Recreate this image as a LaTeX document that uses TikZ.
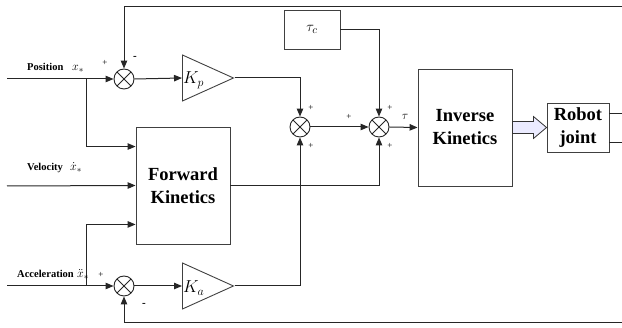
\documentclass[tikz,border=0pt]{standalone}
\usepackage{fontspec}
\setmainfont{Liberation Serif}
\usetikzlibrary{arrows.meta,shapes.geometric,calc}
\begin{document}
\begin{tikzpicture}[x=1pt,y=-1pt,
  line/.style={draw=black!85, line width=1pt},
  arr/.style={line, -{Triangle[length=8pt,width=6.5pt]}},
  box/.style={draw=black!75, line width=0.9pt, inner sep=0pt, align=center},
  bigtxt/.style={font=\fontsize{18.5}{23}\selectfont\bfseries},
  sumnode/.style={circle, draw=black!85, line width=0.9pt, minimum size=20pt, inner sep=0pt,
    path picture={\draw[black!85,line width=0.8pt]
      (path picture bounding box.north west) -- (path picture bounding box.south east)
      (path picture bounding box.north east) -- (path picture bounding box.south west);}},
  amp/.style={isosceles triangle, isosceles triangle stretches, draw=black!75, line width=0.9pt,
    minimum width=46pt, minimum height=51pt, inner sep=0pt, shape border rotate=0},
  lbl/.style={font=\fontsize{10.5}{12}\selectfont\bfseries, inner sep=0pt},
  var/.style={font=\fontsize{13}{13}\selectfont, inner sep=0pt, anchor=base west},
  sgn/.style={font=\fontsize{9}{9}\selectfont, inner sep=0pt},
  neg/.style={font=\fontsize{11}{11}\selectfont\bfseries, inner sep=0pt},
  blockarrow/.style={draw=black!80, line width=0.8pt, fill=blue!8!white}
]
\useasboundingbox (0,0) rectangle (622,328);

% blocks
\node[box, minimum width=56pt, minimum height=39pt] (tauc) at (312,29.5) {\fontsize{15}{15}\selectfont$\tau_c$};
\node[box, bigtxt, minimum width=94pt, minimum height=117pt] (ik) at (465,127.5) {Inverse\\Kinetics};
\node[box, bigtxt, minimum width=62pt, minimum height=49pt] (rj) at (578,127.5) {Robot\\joint};
\node[box, bigtxt, minimum width=94pt, minimum height=117pt] (fk) at (183,185.5) {Forward\\Kinetics};

% summing junctions
\node[sumnode] (s1) at (124,79) {};
\node[sumnode] (s2) at (300,127) {};
\node[sumnode] (s3) at (379,127) {};
\node[sumnode] (s4) at (124,286) {};

% gains
\node[amp, anchor=west] (kp) at (182,78) {};
\node[amp, anchor=west] (ka) at (182,286) {};
\node[anchor=west, inner sep=1pt] at ($(kp.west)+(0,2)$) {\fontsize{17}{17}\selectfont$K_p$};
\node[anchor=west, inner sep=1pt] at ($(ka.west)+(0,2)$) {\fontsize{17}{17}\selectfont$K_a$};

% free ends
\coordinate (inpos) at (7,79);
\coordinate (invel) at (7,186);
\coordinate (inacc) at (7,286);
\coordinate (br1) at (86,79);
\coordinate (br2) at (86,286);
\coordinate (fbtop) at (622,7);
\coordinate (fbbot) at (622,323);
\coordinate (out1) at (622,114);
\coordinate (out2) at (622,143);

% connectors
\draw[arr] (inpos) -- (s1.west);
\draw[arr] (br1) |- ($(fk.north west)+(0,20)$);
\draw[arr] (invel) -- (fk.west);
\draw[arr] (inacc) -- (s4.west);
\draw[arr] (br2) |- ($(fk.south west)+(0,-20)$);
\draw[arr] (fbtop) -| (s1.north);
\draw[arr] (fbbot) -| (s4.south);
\draw[arr] (s1.east) -- (kp.west);
\draw[arr] (s4.east) -- (ka.west);
\draw[arr] (kp.east) -| (s2.north);
\draw[arr] (ka.east) -| (s2.south);
\draw[arr] (s2.east) -- (s3.west);
\draw[arr] (tauc.east) -| (s3.north);
\draw[arr] (fk.east) -| (s3.south);
\draw[arr] (s3.east) -- (ik.west);
\draw[line] (rj.east |- out1) -- (out1);
\draw[line] (rj.east |- out2) -- (out2);
\draw[blockarrow] ($(ik.east)+(0,-6)$) -- ($(ik.east)+(21,-6)$) -- ($(ik.east)+(21,-11)$)
  -- (rj.west) -- ($(ik.east)+(21,11)$) -- ($(ik.east)+(21,6)$) -- ($(ik.east)+(0,6)$) -- cycle;

% input labels
\node[lbl, anchor=base west] at (27,71) {Position};
\node[var] at (72,71) {$x_*$};
\node[lbl, anchor=base west] at (27,171) {Velocity};
\node[var] at (70,171) {$\dot{x}_*$};
\node[lbl, anchor=base west] at (17,278) {Acceleration};
\node[var] at (77,278) {$\ddot{x}_*$};

% signs
\node[sgn] at (105,63) {+};
\node[neg] at (135,58) {-};
\node[sgn] at (311,108) {+};
\node[sgn] at (311,146) {+};
\node[sgn] at (349,117) {+};
\node[sgn] at (390,108) {+};
\node[sgn] at (390,146) {+};
\node[sgn] at (101,275) {+};
\node[neg] at (144,305) {-};
\node[inner sep=0pt] at (405,117) {\fontsize{13}{13}\selectfont$\tau$};
\end{tikzpicture}
\end{document}
